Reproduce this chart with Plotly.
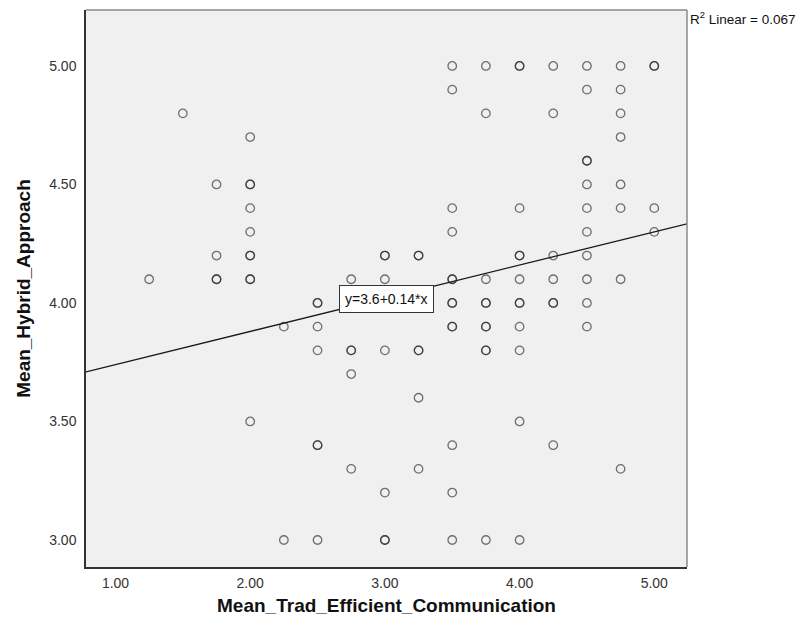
import plotly.graph_objects as go

# Observations grouped by Mean_Trad_Efficient_Communication value;
# repeated Mean_Hybrid_Approach values are cases that share a point.
trad_levels = [1.25, 1.5, 1.75, 2.0, 2.25, 2.5, 2.75, 3.0, 3.25, 3.5, 3.75, 4.0, 4.25, 4.5, 4.75, 5.0]
hybrid_by_level = [
    [4.1],
    [4.8],
    [4.5, 4.2, 4.1, 4.1],
    [4.7, 4.5, 4.5, 4.4, 4.3, 4.2, 4.2, 4.1, 4.1, 3.5],
    [3.9, 3.0],
    [4.0, 4.0, 3.9, 3.8, 3.4, 3.4, 3.0],
    [4.1, 3.8, 3.8, 3.7, 3.3],
    [4.2, 4.2, 4.1, 3.8, 3.2, 3.0, 3.0],
    [4.2, 4.2, 3.8, 3.8, 3.6, 3.3],
    [5.0, 4.9, 4.4, 4.3, 4.1, 4.1, 4.0, 4.0, 3.9, 3.9, 3.4, 3.2, 3.0],
    [5.0, 4.8, 4.1, 4.0, 4.0, 3.9, 3.9, 3.8, 3.8, 3.0],
    [5.0, 5.0, 4.4, 4.2, 4.2, 4.1, 4.0, 4.0, 3.9, 3.8, 3.5, 3.0],
    [5.0, 4.8, 4.2, 4.1, 4.0, 4.0, 3.4],
    [5.0, 4.9, 4.6, 4.6, 4.5, 4.4, 4.3, 4.2, 4.1, 4.0, 3.9],
    [5.0, 4.9, 4.8, 4.7, 4.5, 4.4, 4.1, 3.3],
    [5.0, 5.0, 4.4, 4.3],
]

# Fitted linear model
intercept = 3.6
slope = 0.14
r_squared = 0.067

x_ticks = [1.0, 2.0, 3.0, 4.0, 5.0]
y_ticks = [3.0, 3.5, 4.0, 4.5, 5.0]
x_range = [0.781, 5.243]
y_range = [2.886, 5.236]

trad = []
hybrid = []
for lvl, vals in zip(trad_levels, hybrid_by_level):
    for v in vals:
        trad.append(lvl)
        hybrid.append(v)

FONT = "Liberation Sans, Arial, sans-serif"

fig = go.Figure()

fig.add_trace(go.Scatter(
    x=x_range,
    y=[intercept + slope * x for x in x_range],
    mode="lines",
    line=dict(color="#1a1a1a", width=1.3),
    hoverinfo="skip",
    showlegend=False,
))

fig.add_trace(go.Scatter(
    x=trad, y=hybrid,
    mode="markers",
    marker=dict(symbol="circle-open", size=8.5, color="rgba(30,30,30,0.62)",
                line=dict(width=1.3)),
    showlegend=False,
))

fig.add_annotation(
    x=3.01, y=4.017, xref="x", yref="y",
    text=f"y={intercept:g}+{slope:g}*x",
    showarrow=False,
    font=dict(family=FONT, size=14, color="#111"),
    bgcolor="white", bordercolor="#333", borderwidth=1, borderpad=5,
)

fig.add_annotation(
    x=1, y=1, xref="paper", yref="paper",
    xanchor="left", yanchor="middle", xshift=1, yshift=-8,
    text=f"R<sup>2</sup> Linear = {r_squared:.3f}",
    showarrow=False,
    font=dict(family=FONT, size=13.5, color="#111"),
)

# top and right frame edges
fig.add_shape(type="line", xref="paper", yref="paper", x0=0, x1=1, y0=1, y1=1,
              line=dict(color="#8a8a8a", width=1.5))
fig.add_shape(type="line", xref="paper", yref="paper", x0=1, x1=1, y0=0, y1=1,
              line=dict(color="#8a8a8a", width=1.5))

fig.update_layout(
    width=798, height=632,
    margin=dict(l=86, r=111, t=10, b=65),
    paper_bgcolor="white",
    plot_bgcolor="#f0f0f0",
    font=dict(family=FONT, color="#333"),
    xaxis=dict(
        range=x_range, tickvals=x_ticks, ticktext=[f"{v:.2f}" for v in x_ticks],
        showgrid=False, zeroline=False,
        showline=True, linecolor="#333", linewidth=1.5,
        ticks="outside", ticklen=2, tickcolor="rgba(0,0,0,0)",
        tickfont=dict(family=FONT, size=14, color="#333"),
        title=dict(text="<b>Mean_Trad_Efficient_Communication</b>",
                   font=dict(family=FONT, size=19, color="#111"), standoff=9),
    ),
    yaxis=dict(
        range=y_range, tickvals=y_ticks, ticktext=[f"{v:.2f}" for v in y_ticks],
        showgrid=False, zeroline=False,
        showline=True, linecolor="#333", linewidth=1.5,
        ticks="outside", ticklen=5, tickcolor="rgba(0,0,0,0)",
        tickfont=dict(family=FONT, size=14, color="#333"),
        title=dict(text="<b>Mean_Hybrid_Approach</b>",
                   font=dict(family=FONT, size=19, color="#111"), standoff=14),
    ),
)

fig.write_html("out.html")
